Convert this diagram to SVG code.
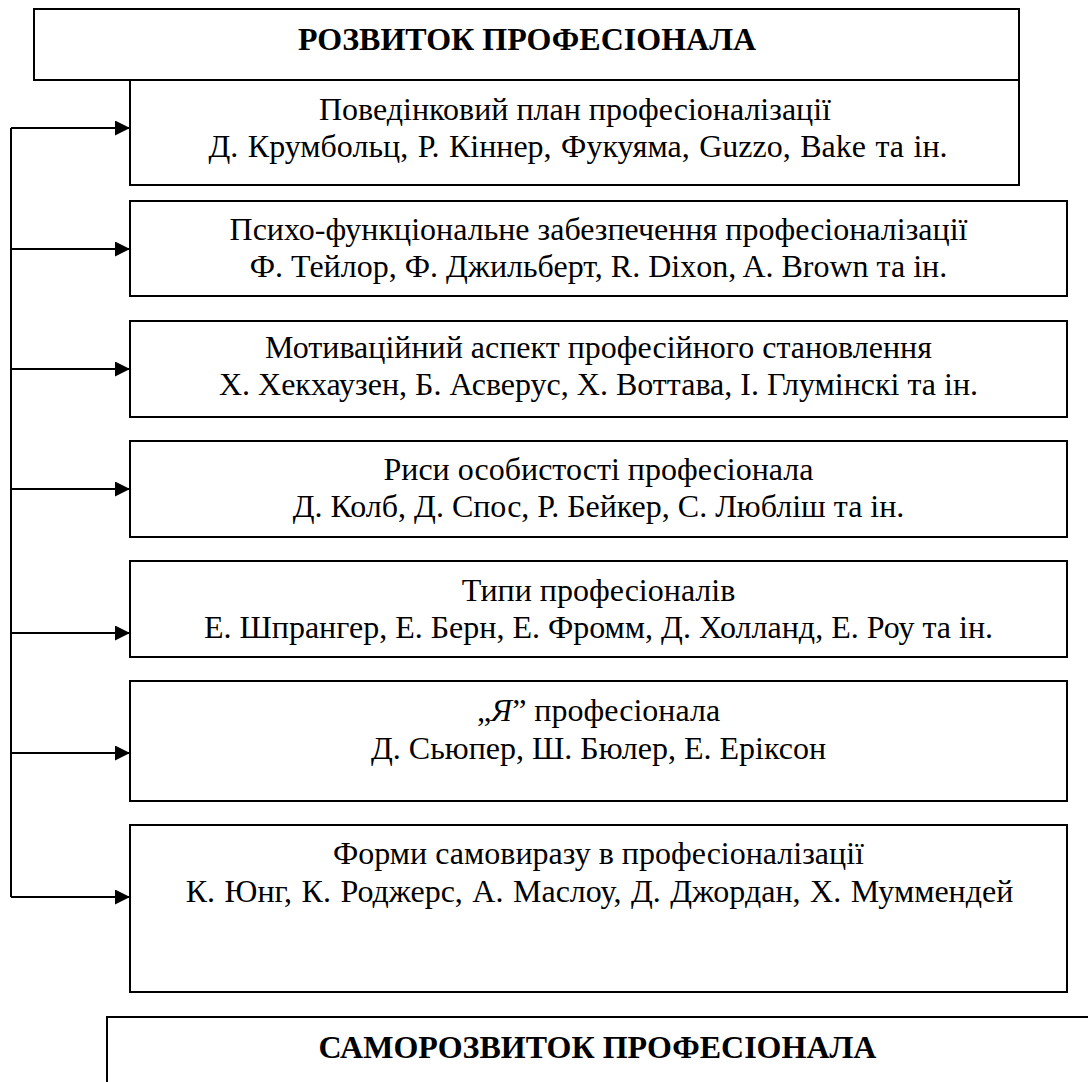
<svg xmlns="http://www.w3.org/2000/svg" width="1088" height="1082" viewBox="0 0 1088 1082">
<style>
.box{fill:#fff;stroke:#000;stroke-width:2}
.t{font-family:'Liberation Serif','Times New Roman',serif;fill:#000;text-anchor:middle;font-size:32px}
.h{font-weight:bold}
.w{word-spacing:1.5px}
.c{fill:none;stroke:#000;stroke-width:2}
</style>
<defs>
<marker id="ah" markerUnits="userSpaceOnUse" markerWidth="16" markerHeight="16" refX="15" refY="7.5" orient="auto">
<path d="M0,0 L15,7.5 L0,15 Z" fill="#000"/>
</marker>
</defs>
<rect width="1088" height="1082" fill="#fff"/>
<g id="connectors">
<path class="c" d="M11,128 V897"/>
<path class="c" d="M11,128 H130" marker-end="url(#ah)"/>
<path class="c" d="M11,249 H130" marker-end="url(#ah)"/>
<path class="c" d="M11,369 H130" marker-end="url(#ah)"/>
<path class="c" d="M11,489 H130" marker-end="url(#ah)"/>
<path class="c" d="M11,633 H130" marker-end="url(#ah)"/>
<path class="c" d="M11,753 H130" marker-end="url(#ah)"/>
<path class="c" d="M11,897 H130" marker-end="url(#ah)"/>
</g>
<g id="root">
<rect class="box" x="34" y="9" width="985" height="71"/>
<text class="t h" x="527" y="50">РОЗВИТОК ПРОФЕСІОНАЛА</text>
</g>
<g id="n1">
<rect class="box" x="130" y="80" width="889" height="105"/>
<text class="t" x="575" y="120">Поведінковий план професіоналізації</text>
<text class="t w" x="578" y="157">Д. Крумбольц, Р. Кіннер, Фукуяма, Guzzo, Bake та ін.</text>
</g>
<g id="n2">
<rect class="box" x="130" y="201" width="937" height="95"/>
<text class="t" x="598.5" y="240">Психо-функціональне забезпечення професіоналізації</text>
<text class="t" x="598.5" y="277">Ф. Тейлор, Ф. Джильберт, R. Dixon, A. Brown та ін.</text>
</g>
<g id="n3">
<rect class="box" x="130" y="321" width="937" height="96"/>
<text class="t" x="598.5" y="358">Мотиваційний аспект професійного становлення</text>
<text class="t" x="598.5" y="395">Х. Хекхаузен, Б. Асверус, Х. Воттава, І. Глумінскі та ін.</text>
</g>
<g id="n4">
<rect class="box" x="130" y="441" width="937" height="96"/>
<text class="t" x="598.5" y="480">Риси особистості професіонала</text>
<text class="t" x="598.5" y="517">Д. Колб, Д. Спос, Р. Бейкер, С. Любліш та ін.</text>
</g>
<g id="n5">
<rect class="box" x="130" y="561" width="937" height="96"/>
<text class="t" x="598.5" y="601">Типи професіоналів</text>
<text class="t" x="598.5" y="638">Е. Шпрангер, Е. Берн, Е. Фромм, Д. Холланд, Е. Роу та ін.</text>
</g>
<g id="n6">
<rect class="box" x="130" y="681" width="937" height="120"/>
<text class="t" x="598.5" y="721">„<tspan font-style="italic">Я</tspan>” професіонала</text>
<text class="t" x="598.5" y="759">Д. Сьюпер, Ш. Бюлер, Е. Еріксон</text>
</g>
<g id="n7">
<rect class="box" x="130" y="825" width="937" height="167"/>
<text class="t" x="598.5" y="864">Форми самовиразу в професіоналізації</text>
<text class="t w" x="599.5" y="902">К. Юнг, К. Роджерс, А. Маслоу, Д. Джордан, Х. Муммендей</text>
</g>
<g id="self">
<rect class="box" x="107" y="1017" width="1000" height="100"/>
<text class="t h" x="597.5" y="1058">САМОРОЗВИТОК ПРОФЕСІОНАЛА</text>
</g>
</svg>
